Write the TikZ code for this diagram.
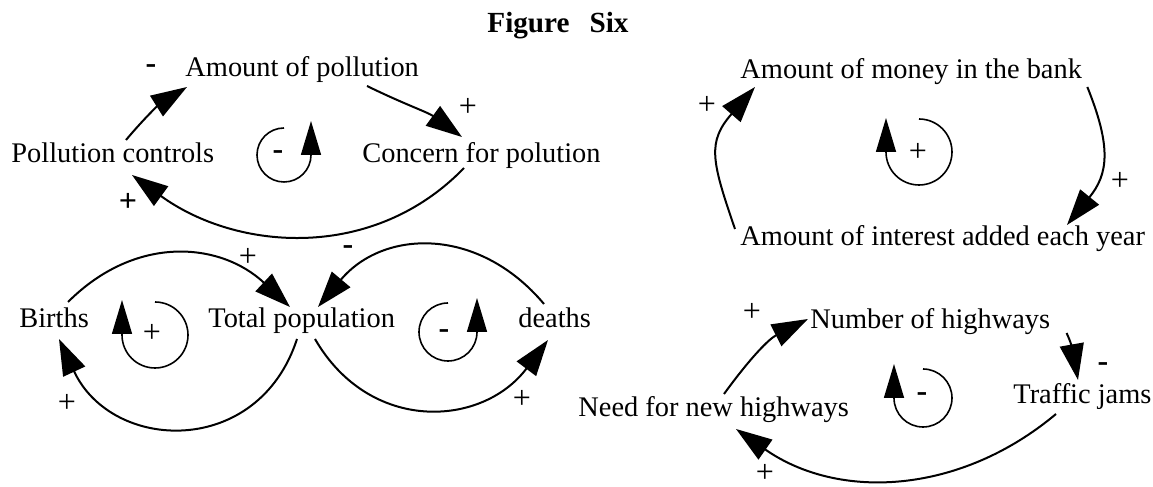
\documentclass[tikz,border=0pt]{standalone}
\usepackage{fontspec}
\setmainfont{Liberation Serif}
\usetikzlibrary{arrows.meta}
\tikzset{
  var/.style={inner sep=0pt, anchor=base west, font=\fontsize{14.2pt}{17pt}\selectfont},
  sign/.style={inner sep=0pt, font=\fontsize{16pt}{18pt}\selectfont},
  link/.style={line width=1pt, -{Triangle[length=18pt,width=12pt]}},
  loopline/.style={line width=0.8pt, -{Triangle[length=17pt,width=10pt]}}
}
\begin{document}
\begin{tikzpicture}[x=0.5pt,y=0.5pt]
  \useasboundingbox (0,0) rectangle (1153,487);
  \node[sign, anchor=base, font=\fontsize{14.6pt}{17pt}\selectfont\bfseries] (title) at (558,454) {Figure\hspace{10pt}Six};

  \node[var] (amtpol) at (185,410) {Amount of pollution};
  \node[var] (polctl) at (11,324) {Pollution controls};
  \node[var] (concern) at (362,324) {Concern for polution};
  \draw[link] ([shift={(115,23)}]polctl.base west) to[out=50,in=212] ([shift={(2,-10)}]amtpol.base west);
  \draw[link] ([shift={(182,-9)}]amtpol.base west) to[out=-26,in=144] ([shift={(100,26)}]concern.base west);
  \draw[link] ([shift={(102,-5)}]concern.base west) to[out=-134,in=-36] ([shift={(121,-12)}]polctl.base west);
  \node[sign] (polsign1) at (151,418) {\bfseries -};
  \node[sign] (polsign2) at (468,380) {+};
  \node[sign] (polsign3) at (128,285) {\bfseries +};
  \node[sign] (polloop) at (278,332) {\bfseries -};
  \draw[loopline] ([shift={(6,27)}]polloop.center) arc[start angle=90, end angle=360, radius=27] -- ++(0,34);

  \node[var] (money) at (740,408) {Amount of money in the bank};
  \node[var] (interest) at (740,241) {Amount of interest added each year};
  \draw[link] ([shift={(5,-8)}]money.base east) to[out=-68,in=51,looseness=1.2] ([shift={(327,21)}]interest.base west);
  \draw[link] ([shift={(-5,17)}]interest.base west) to[out=109,in=229,looseness=1.3] ([shift={(15,-8)}]money.base west);
  \node[sign] (monsign1) at (707,382) {+};
  \node[sign] (monsign2) at (1120,306) {+};
  \node[sign] (monloop) at (918,335) {+};
  \draw[loopline] ([shift={(1,33)}]monloop.center) arc[start angle=90, end angle=-180, radius=33] -- ++(0,34);

  \node[var] (births) at (19,159) {Births};
  \node[var] (totpop) at (208,159) {Total population};
  \node[var] (deaths) at (518,159) {deaths};
  \draw[link] ([shift={(49,26)}]births.base west) to[out=45,in=137,looseness=1.1] ([shift={(82,21)}]totpop.base west);
  \draw[link] ([shift={(89,-11)}]totpop.base west) to[out=252,in=-65,looseness=1.35] ([shift={(40,-11)}]births.base west);
  \draw[link] ([shift={(26,24)}]deaths.base west) to[out=130,in=50,looseness=1.15] ([shift={(110,21)}]totpop.base west);
  \draw[link] ([shift={(107,-11)}]totpop.base west) to[out=-60,in=233,looseness=1.2] ([shift={(30,-12)}]deaths.base west);
  \node[sign] (popsign1) at (248,230) {+};
  \node[sign] (popsign2) at (67,84) {+};
  \node[sign] (popsign3) at (348,237) {\bfseries -};
  \node[sign] (popsign4) at (522,88) {+};
  \node[sign] (birloop) at (152,154) {+};
  \draw[loopline] ([shift={(3,31)}]birloop.center) arc[start angle=90, end angle=-180, radius=33] -- ++(0,35);
  \node[sign] (dealoop) at (444,153) {\bfseries -};
  \draw[loopline] ([shift={(4,31)}]dealoop.center) arc[start angle=90, end angle=360, radius=29] -- ++(0,34);

  \node[var] (numhw) at (810,158) {Number of highways};
  \node[var] (traffic) at (1013,83) {Traffic jams};
  \node[var] (needhw) at (578,70) {Need for new highways};
  \draw[link] ([shift={(146,23)}]needhw.base west) to[out=54,in=207] ([shift={(-2,10)}]numhw.base west);
  \draw[link] ([shift={(16,-4)}]numhw.base east) to[out=-65,in=100] ([shift={(65,24)}]traffic.base west);
  \draw[link] ([shift={(43,-10)}]traffic.base west) to[out=220,in=-35] ([shift={(158,-12)}]needhw.base west);
  \node[sign] (hwsign1) at (752,175) {+};
  \node[sign] (hwsign2) at (1103,120) {\bfseries -};
  \node[sign] (hwsign3) at (765,14) {+};
  \node[sign] (hwloop) at (922,90) {\bfseries -};
  \draw[loopline] ([shift={(1,28)}]hwloop.center) arc[start angle=90, end angle=-180, radius=29] -- ++(0,34);
\end{tikzpicture}
\end{document}
